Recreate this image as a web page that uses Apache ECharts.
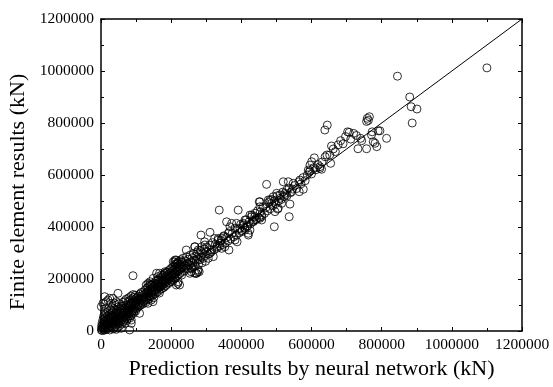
<!DOCTYPE html>
<html>
<head>
<meta charset="utf-8">
<script src="https://cdn.jsdelivr.net/npm/echarts@6/dist/echarts.min.js"></script>
<style>
  html, body { margin: 0; padding: 0; background: #fff; }
  #chart { width: 553px; height: 387px; }
</style>
</head>
<body>
<div id="chart"></div>
<script>
// axis settings (kN)
const axisMax = 1200000;
const axisStep = 200000;

// y = x reference line
const lineX = [0, 1200000];
const lineY = [0, 1200000];

// [prediction, finite element] pairs
const lowBand = [
  [1000,4000],[1500,18000],[2500,9000],[3000,30000],[3500,1500],[4500,14000],[5000,42000],[5500,24000],[6500,7000],[7000,55000],
  [7500,19000],[8500,35000],[9000,3000],[9500,47000],[10500,26000],[11000,64000],[11500,12000],[12500,38000],[13000,21000],[13500,52000],
  [14500,5000],[15000,33000],[15500,70000],[16500,17000],[17000,45000],[17500,28000],[18500,58000],[19000,9000],[19500,40000],[20500,24000],
  [21000,76000],[21500,50000],[22500,15000],[23000,34000],[23500,63000],[24500,29000],[25000,4000],[25500,46000],[26500,82000],[27000,22000],
  [27500,55000],[28500,38000],[29000,12000],[29500,68000],[30500,31000],[31000,49000],[31500,90000],[32500,19000],[33000,60000],[33500,40000],
  [34500,75000],[35000,27000],[35500,8000],[36500,52000],[37000,35000],[37500,86000],[38500,44000],[39000,16000],[39500,66000],[40500,30000],
  [41000,57000],[41500,98000],[42500,39000],[43000,73000],[43500,22000],[44500,50000],[45000,81000],[45500,33000],[46500,62000],[47000,12000],
  [47500,45000],[48500,92000],[49000,28000],[49500,70000],[50500,55000],[51000,38000],[51500,105000],[52500,64000],[53000,20000],[53500,48000],
  [54500,84000],[55000,33000],[55500,72000],[56500,58000],[57500,96000],[58500,42000],[59000,78000],[59500,61000],[60500,27000],[61000,88000],
  [61500,50000],[62500,110000],[63000,70000],[63500,36000],[64500,82000],[65000,57000],[65500,98000],[66500,44000],[67000,75000],[67500,116000],
  [68500,62000],[69000,30000],[69500,90000],[70500,52000],[71000,80000],[71500,122000],[72500,68000],[73000,40000],[73500,100000],[74500,60000],
  [75000,86000],[75500,47000],[76500,112000],[77000,74000],[77500,95000],[78500,56000],[79000,128000],[79500,82000],[80500,66000],[81000,104000],
  [82500,90000],[83000,118000],[83500,72000],[84500,58000],[85000,98000],[85500,134000],[86500,80000],[87000,108000],[87500,64000],[88500,92000],
  [89000,124000],[89500,74000],[90500,102000],[91000,140000],[91500,84000],[92500,112000],[93000,68000],[93500,96000],[94500,130000],[95000,78000],
  [95500,118000],[96500,88000],[97000,106000],[97500,138000],[98500,76000],[99000,98000],[99500,124000]
];

const lowOutliers = [
  [81800,4000],[57900,10400],[43600,6500],[91200,212700],[48450,145000],[34000,125700],[20000,119000],[15000,112700],
  [39000,106500],[10500,132000],[24800,125800],[29000,106500],[43600,112700],[5700,106500],[1000,93500],[15000,87300],
  [10500,74000],[110000,68000],[148000,112700],[134000,106500],[143000,119000],[81800,49000],[86400,29600],[86400,42000]
];

const midBand = [
  [100500,110000],[101500,86000],[102500,128000],[103500,98000],[104500,116000],[105500,92000],[106500,134000],[107500,104000],[108500,120000],[109500,96000],
  [110500,142000],[111500,112000],[112500,126000],[113500,100000],[114500,148000],[115500,118000],[116500,108000],[117500,136000],[118500,124000],[119500,104000],
  [120500,150000],[121500,128000],[122500,114000],[123500,140000],[124500,118000],[125500,158000],[126500,132000],[127500,110000],[128500,146000],[129500,126000],
  [130500,164000],[131500,140000],[132500,120000],[133500,152000],[134500,130000],[135500,170000],[136500,146000],[137500,124000],[138500,158000],[139500,136000],
  [140500,176000],[141500,150000],[142500,132000],[143500,164000],[144500,142000],[145500,180000],[146500,156000],[147500,138000],[148500,170000],[149500,150000],
  [150500,128000],[151500,184000],[152500,160000],[153500,142000],[154500,176000],[155500,154000],[156500,192000],[157500,166000],[158500,148000],[159500,180000],
  [160500,160000],[161500,196000],[162500,172000],[163500,152000],[164500,186000],[165500,168000],[166500,146000],[167500,200000],[168500,178000],[169500,160000],
  [170500,192000],[171500,172000],[172500,208000],[173500,184000],[174500,164000],[175500,196000],[176500,178000],[177500,214000],[178500,190000],[179500,168000],
  [180500,202000],[181500,184000],[182500,220000],[183500,196000],[184500,174000],[185500,210000],[186500,190000],[187500,226000],[188500,200000],[189500,180000],
  [190500,216000],[191500,196000],[192500,232000],[193500,206000],[194500,186000],[195500,222000],[196500,202000],[197500,238000],[198500,212000],[199500,192000],
  [200500,228000],[201500,208000],[202500,244000],[203500,218000],[204500,196000],[205500,234000],[206500,214000],[207500,250000],[208500,224000],[209500,202000],
  [210500,240000],[211500,220000],[212500,256000],[213500,230000],[214500,208000],[215500,246000],[216500,226000],[217500,262000],[218500,236000],[219500,214000],
  [220500,252000],[221500,232000],[222500,268000],[223500,242000],[224500,220000],[225500,258000],[226500,238000],[227500,274000],[228500,248000],[229500,226000],
  [230500,264000],[232000,244000],[234000,280000],[236000,254000],[238000,232000],[240000,270000],[242000,250000],[244000,286000],[246000,260000],[248000,238000],
  [250000,276000],[252000,256000],[254000,292000],[256000,266000],[258000,244000],[260000,282000],[262000,262000],[264000,298000],[266000,272000],[268000,250000],
  [270000,288000],[272000,268000],[274000,304000],[276000,278000],[278000,256000],[280000,294000],[282000,274000],[284000,310000],[286000,284000],[288000,262000],
  [290000,300000],[292000,280000],[294000,316000],[296000,290000],[298000,268000],[300000,306000]
];

const midOutliers = [
  [129000,177000],[139000,181000],[134000,183000],[167000,222000],[162000,209000],[172000,215000],[181500,222000],[143000,151000],
  [153000,158000],[162000,170000],[219000,183000],[224000,177000],[214600,177000],[210000,266000],[214600,273000],[219000,260000],
  [243000,311500],[257000,228000],[267000,222000],[271700,222000],[276000,228000],[280000,228000],[285000,369000],[310650,379600],
  [267000,324000],[295500,343000],[324000,356000],[337000,465000],[391000,465000],[364800,311500],[382000,350000],[388000,343000],
  [268000,324000],[287000,324000],[296000,331000],[277000,311500],[310650,299000],[315500,311500],[305800,279600],[320000,286000],
  [329700,324000],[339000,337000],[344000,318000],[353000,324000],[334000,350000],[344000,356000],[348500,362700],[358000,420000],
  [367650,401000],[372500,414000],[362800,375700],[386500,414000],[211000,273000],[206000,266500],[230000,266500],[215500,260000],
  [277000,234600],[272000,222000],[258000,241000],[263000,247000],[252000,254000],[234500,247000],[244000,241000],[182400,228000],
  [158500,222000],[149000,202700],[163000,196000],[173000,183000],[139650,189600],[144500,177000],[168000,170000],[192000,209000],
  [201000,189600],[220000,189600],[211000,202700],[230000,215000],[253600,222000]
];

const upperBand = [
  [302000,322000],[306000,296000],[310000,330000],[314000,304000],[318000,340000],[322000,312000],[326000,334000],[330000,318000],
  [334000,356000],[338000,326000],[342000,348000],[346000,332000],[350000,366000],[354000,338000],[358000,360000],[362000,346000],
  [366000,382000],[370000,354000],[374000,376000],[378000,362000],[382000,396000],[386000,368000],[390000,392000],[394000,378000],
  [398000,410000],[402000,386000],[406000,408000],[410000,396000],[414000,428000],[418000,404000],[422000,420000],[426000,412000],
  [430000,446000],[434000,422000],[438000,440000],[442000,428000],[446000,462000],[450000,436000],[454000,458000],[458000,446000],
  [462000,478000],[466000,452000],[470000,474000],[474000,462000],[478000,494000],[482000,470000],[486000,506000],[490000,482000],
  [494000,500000],[498000,490000],[502000,520000],[506000,500000],[510000,510000],[514000,506000],[518000,534000],[522000,516000],
  [526000,524000],[530000,520000],[536000,550000],[540000,532000],[546000,546000],[552000,560000],[558000,548000],[564000,574000],
  [570000,566000],[576000,590000],[582000,578000],[588000,600000],[594000,612000],[600000,604000],[606000,628000],[612000,620000],
  [618000,640000],[624000,632000],[630000,650000]
];

const upperOutliers = [
  [600500,651000],[595650,638000],[590800,619000],[595650,616500],[624000,625700],[628700,622000],[567000,580700],[576600,545000],
  [565000,535700],[472000,564000],[519600,574000],[533800,574000],[548000,568000],[500700,529600],[510000,523000],[524400,529600],
  [529000,542000],[543500,535700],[491000,516500],[538600,488000],[515000,491000],[505000,472000],[496000,459000],[453000,497000],
  [481600,503600],[486000,491000],[536400,439600],[494000,401000],[453000,433500],[439000,453000],[429500,439600],[434000,420400],
  [410400,427000],[405500,414000],[415000,401000],[396000,395000],[410400,388500],[401000,382000],[420000,369000],[451000,497000],
  [453000,478000],[477000,504000],[503500,469000],[458000,427000],[458000,440000],[424650,446000],[443700,433000],[436000,427000],
  [424650,388000],[419800,375700],[608000,666000],[644000,677000],[639000,670000],[654600,645000],[645000,792000],[638000,773000],
  [652000,677000],[657000,711500],[662000,700000],[683000,732000],[703000,766000],[707500,764000]
];

const highPoints = [
  [845000,980000],[880000,900000],[884000,862700],[900600,853800],[887000,800000],[814000,741000],[795000,770000],[759000,818000],
  [762000,810000],[765000,824000],[757000,806000],[773000,766000],[790000,770000],[771000,754000],[740000,741000],[743000,732000],
  [776000,728000],[781000,722000],[786000,709000],[732500,701000],[757000,701000],[1100000,1012000],[668000,690000],[676000,716000],
  [690000,720000],[697000,748000],[712000,738000],[720000,760000],[728000,752000]
];

const points = [].concat(lowBand, lowOutliers, midBand, midOutliers, upperBand, upperOutliers, highPoints);

const serif = 'Liberation Serif';
const plain = (v) => String(v);

function baseAxis(extra) {
  return Object.assign({
    type: 'value',
    min: 0,
    max: axisMax,
    interval: axisStep,
    splitLine: { show: false },
    axisLine: { show: true, onZero: false, lineStyle: { color: '#000', width: 1.5 } },
    axisTick: { show: true, inside: true, length: 4, lineStyle: { color: '#000', width: 1 } },
    minorTick: { show: true, splitNumber: 2, length: 3, lineStyle: { color: '#000', width: 1 } }
  }, extra);
}

const chart = echarts.init(document.getElementById('chart'));

chart.setOption({
  backgroundColor: '#fff',
  animation: false,
  grid: { left: 101, right: 31, top: 19, bottom: 56, containLabel: false, outerBoundsMode: 'none' },
  xAxis: [
    baseAxis({
      position: 'bottom',
      name: 'Prediction results by neural network (kN)',
      nameLocation: 'middle',
      nameGap: 26,
      nameTextStyle: { fontFamily: serif, fontSize: 22, color: '#000' },
      axisLabel: { fontFamily: serif, fontSize: 15.5, color: '#000', margin: 6, formatter: plain }
    }),
    baseAxis({ position: 'top', axisLabel: { show: false } })
  ],
  yAxis: [
    baseAxis({
      position: 'left',
      name: 'Finite element results (kN)',
      nameLocation: 'middle',
      nameGap: 69,
      // title sits a little below the axis middle in the original
      nameTextStyle: { fontFamily: serif, fontSize: 22, color: '#000', padding: [0, 34, 0, 0] },
      axisLabel: { fontFamily: serif, fontSize: 15.5, color: '#000', margin: 7, formatter: plain }
    }),
    baseAxis({ position: 'right', axisLabel: { show: false } })
  ],
  series: [
    {
      type: 'scatter',
      data: points,
      symbol: 'circle',
      symbolSize: 8,
      itemStyle: { color: 'rgba(0,0,0,0)', borderColor: '#000', borderWidth: 1 },
      silent: true
    },
    {
      type: 'line',
      data: lineX.map((x, i) => [x, lineY[i]]),
      showSymbol: false,
      symbol: 'none',
      lineStyle: { color: '#000', width: 1 },
      silent: true
    }
  ]
});
</script>
</body>
</html>
